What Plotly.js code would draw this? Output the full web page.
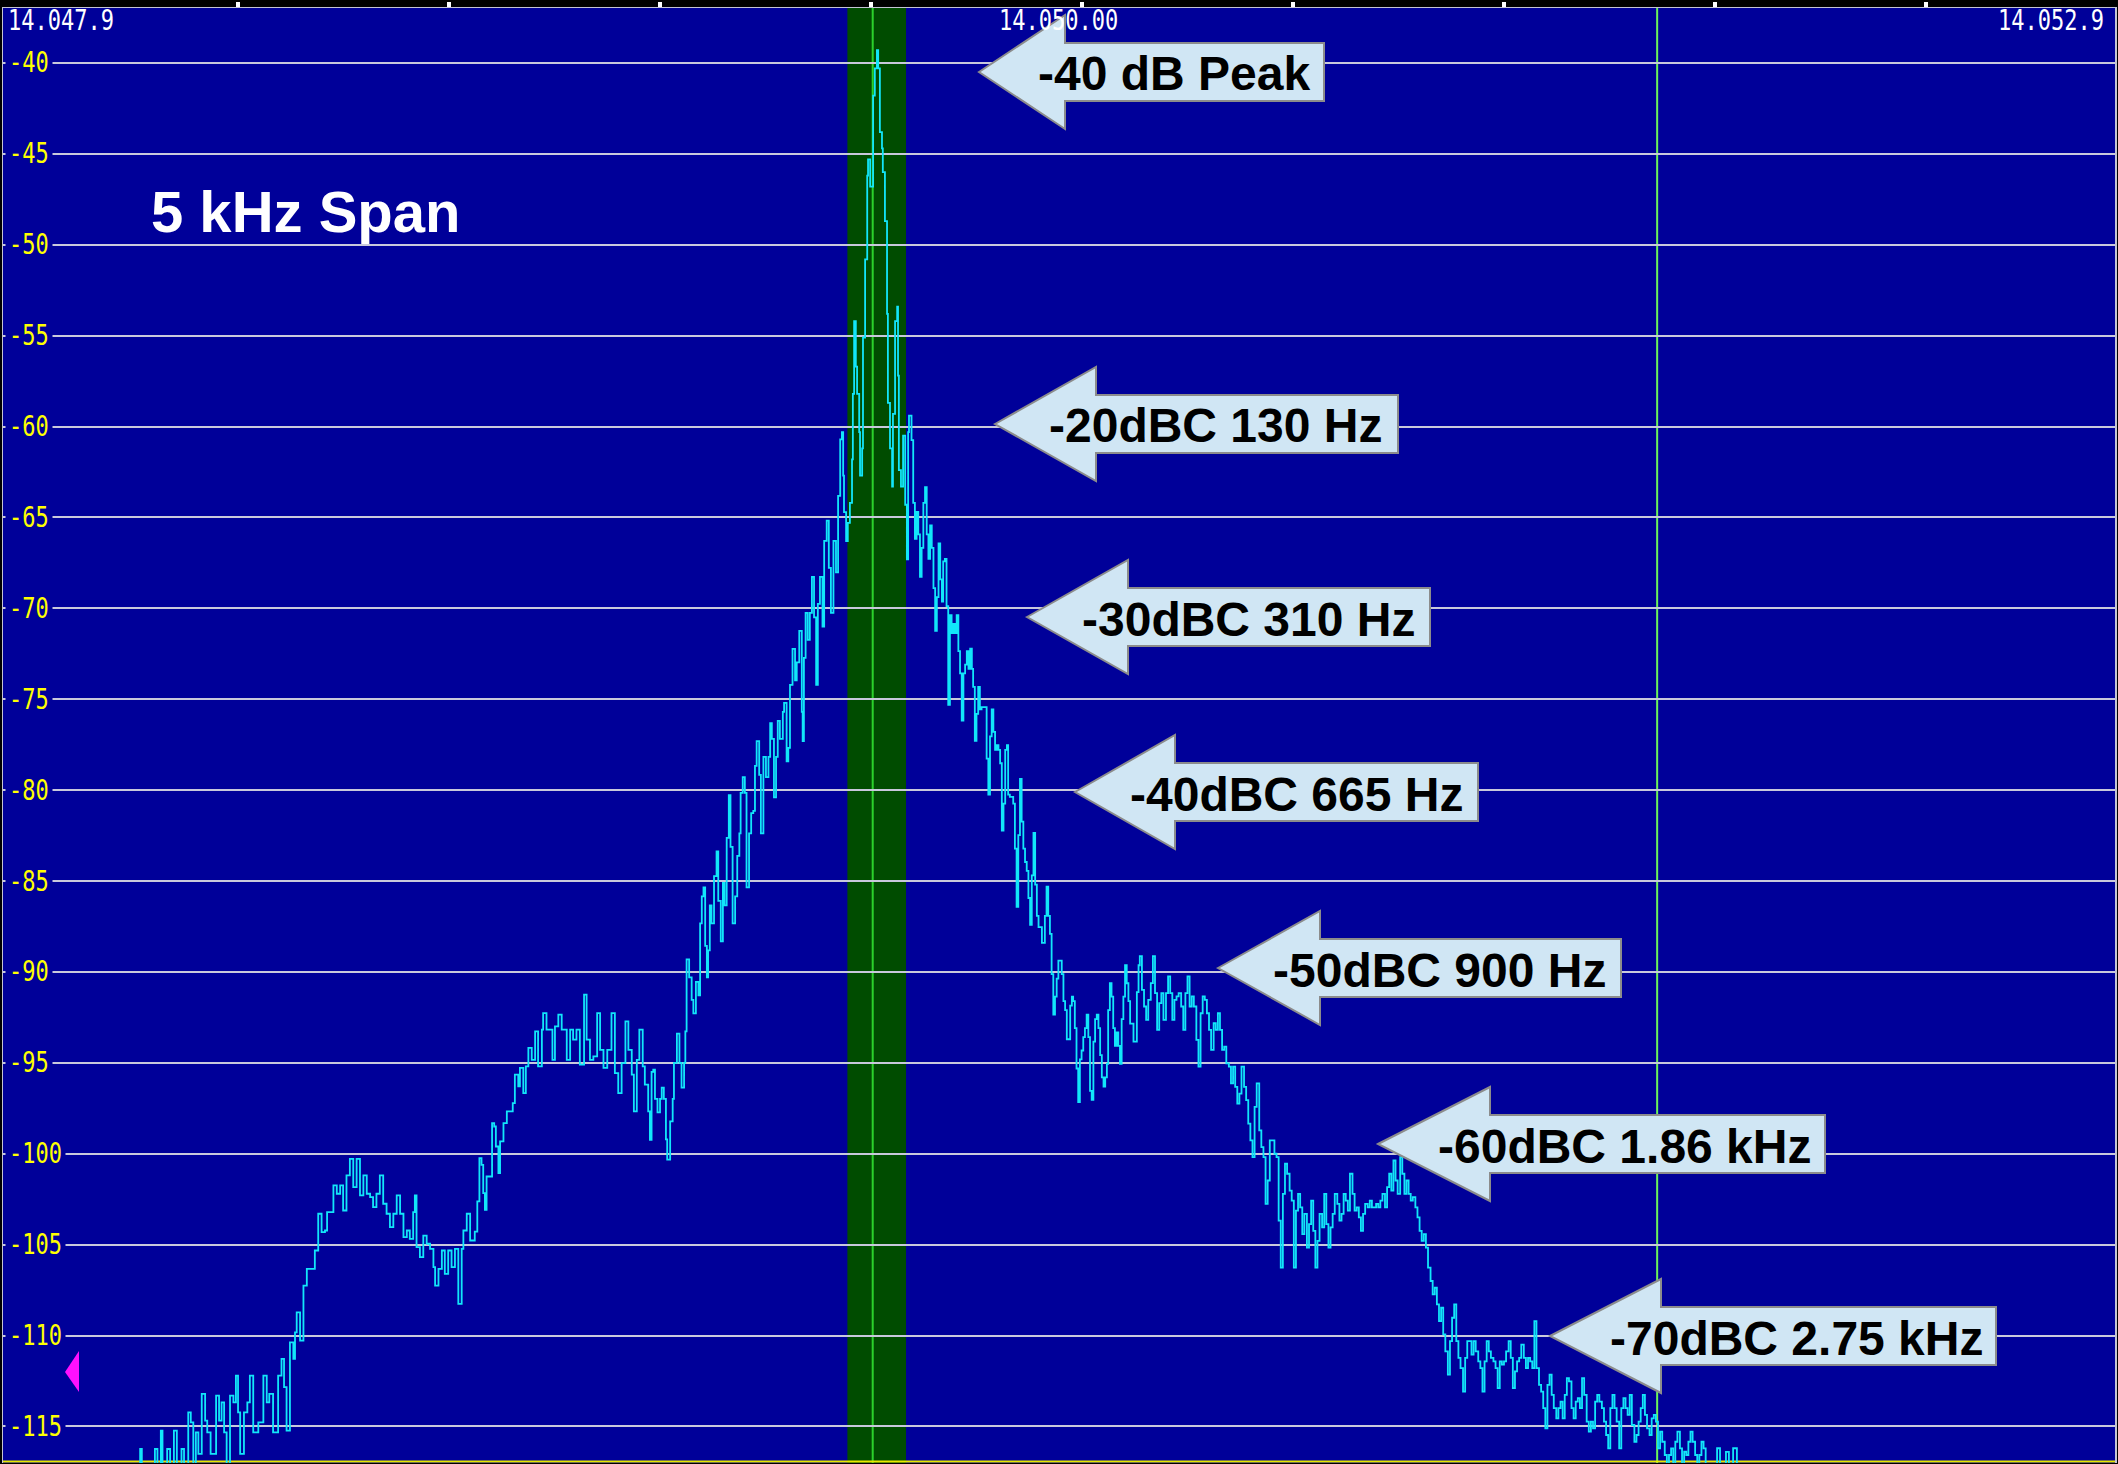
<!DOCTYPE html>
<html><head><meta charset="utf-8">
<script src="https://cdn.plot.ly/plotly-3.0.1.min.js"></script>
<style>html,body{margin:0;padding:0;background:#000;}#chart{width:2118px;height:1464px;}</style>
</head><body><div id="chart"></div>
<script>
// ---------------- data ----------------
const carrierMHz = 14.050;
// spectrum trace: offset from 14.050 MHz (Hz) and level (dB)
const freqOffsetHz = [
-1756,-1736,-1732,-1728,-1701,-1697,-1691,-1683,-1679,-1668,-1661,-1652,-1645,-1634,-1628,-1618,-1612,-1606,-1600,-1594,
-1586,-1578,-1573,-1565,-1552,-1545,-1539,-1533,-1527,-1519,-1511,-1505,-1500,-1495,-1486,-1478,-1472,-1464,-1452,-1440,
-1432,-1426,-1417,-1405,-1397,-1391,-1385,-1377,-1369,-1365,-1361,-1353,-1345,-1337,-1326,-1318,-1310,-1302,-1294,-1289,
-1282,-1274,-1266,-1258,-1251,-1243,-1235,-1227,-1219,-1211,-1203,-1195,-1187,-1180,-1172,-1164,-1156,-1148,-1140,-1132,
-1124,-1116,-1108,-1100,-1093,-1085,-1081,-1077,-1069,-1061,-1053,-1045,-1037,-1033,-1025,-1017,-1010,-1002,-994,-986,
-978,-970,-966,-958,-950,
-939,-933,-928,-923,-919,-915,-911,-903,-898,-893,-889,-883,-879,-871,-863,-856,-849,-844,-836,-832,
-824,-818,-812,-804,-796,-789,-780,-777,-769,-761,-755,-749,-741,-733,-725,-721,-713,-706,-698,-690,
-680,-674,-666,-658,-649,-642,-634,-625,-615,-607,-599,-591,-582,-575,-567,-562,-555,-549,-541,-536,-528,-524,
-520,-516,-512,-506,-500,-496,-491,-486,-483,-476,-470,-467,-460,-454,-449,-443,-440,-437,-431,-425,
-421,-415,-409,-405,-401,-397,-393,-389,-386,-382,-378,-372,-366,-362,-356,-351,-347,-342,-337,-333,
-328,-322,-317,-312,-309,-304,-299,-295,-289,-284,-279,-275,-271,-265,-261,-255,-249,-243,-239,-235,
-230,-225,-221,-216,-209,-206,-200,-196,-192,-186,-180,-176,-170,-164,-162,-159,-155,-150,-145,-140,
-135,-130,-126,-121,-115,-111,-105,-100,-95,-89,-83,-78,
-73,-69,-66,-64,-59,-55,-50,-45,-43,-40,-36,-33,-28,-26,-21,-19,-14,-9,-7,-2,
5,9,14,17,21,26,28,33,38,40,45,50,52,57,62,64,66,71,76,81,85,88,90,
96,100,104,108,112,116,120,124,128,132,136,140,144,148,152,156,160,164,168,171,
175,179,183,187,191,195,199,203,207,211,215,219,223,227,231,235,239,242,246,250,
254,258,262,270,274,278,282,286,290,294,298,302,306,310,314,318,322,325,329,333,
337,341,345,349,353,357,361,365,369,373,377,381,385,389,393,397,401,405,408,412,
416,420,424,428,432,436,440,444,448,452,456,460,464,468,472,476,479,483,487,491,
495,499,503,507,511,515,519,523,527,531,535,539,543,547,551,555,559,562,566,570,
574,578,582,586,590,594,598,602,606,610,614,622,630,634,
637,642,647,652,657,663,668,673,678,683,688,693,699,704,709,714,719,724,729,735,
740,745,750,755,760,765,771,776,781,786,791,796,801,806,812,817,822,827,832,837,
842,848,853,858,863,868,873,878,884,889,894,899,904,909,914,920,925,930,935,940,
945,950,956,961,966,971,976,981,986,992,997,1002,1007,1012,1017,1022,1027,1033,1038,1043,
1048,1053,1058,1063,1069,1074,1079,1084,1089,1094,1099,1105,1110,1115,1120,1125,1130,1135,1141,1146,
1151,1156,1161,1166,1171,1177,1182,1187,1192,1197,1202,1207,1212,1218,1223,1228,1233,1238,1243,1248,
1254,1259,1264,1269,1274,1279,1284,1290,1295,1300,1305,1310,1315,1320,1326,1331,1336,1341,1346,1351,
1356,1361,1367,1372,1377,1382,1387,1392,1397,1403,1408,1413,1418,1423,1428,1433,1439,1444,1449,1454,
1459,1464,1469,1475,1480,1485,1490,1495,1500,1505,1511,1516,1521,1526,1531,1536,1541,1547,1552,1557,
1562,1567,1572,1577,1583,1588,1593,1598,1603,1608,1613,1618,1624,1629,1634,1639,1644,1649,1654,1660,
1665,1670,1675,1680,1685,1690,1696,1701,1706,1711,1716,1721,1726,1732,1737,1742,1747,1752,1757,1762,
1767,1773,1778,1783,1788,1793,1798,1803,1809,1814,1819,1824,1829,1834,1839,1845,1850,1855,1860,1865,
1870,1875,1881,1886,1891,1896,1901,1906,1911,1917,1922,1927,1932,1937,1942,1947,1953,1958,1963,1968,
1973,1978,1988,2005,2012,2026,2033,2043,2052,2062
];
const levelDb = [
-117.06,-117.06,-116.24,-117.06,-117.06,-116.24,-117.06,-115.23,-117.06,-116.24,-117.06,-115.23,-117.06,-116.24,-117.06,-114.22,-114.77,-117.06,-115.32,-116.51,
-113.21,-114.68,-115.32,-116.51,-113.30,-114.68,-113.67,-115.32,-117.06,-113.30,-113.67,-112.20,-114.22,-116.51,-114.22,-113.67,-112.20,-115.32,-114.77,-112.20,
-113.67,-113.21,-115.32,-112.20,-111.28,-112.84,-115.23,-110.37,-111.28,-109.82,-108.72,-110.28,-107.25,-106.33,-106.33,-105.32,-103.30,-104.31,-104.22,-103.21,
-103.21,-101.74,-102.20,-101.74,-103.12,-101.19,-100.28,-101.83,-100.28,-102.29,-101.19,-102.20,-102.39,-102.94,-102.20,-101.19,-102.75,-103.30,-104.04,-103.30,
-102.29,-103.30,-104.59,-104.22,-104.68,-103.21,-102.29,-105.14,-105.69,-104.50,-104.95,-105.23,-106.24,-107.25,-106.33,-105.32,-106.61,-105.32,-106.24,-105.23,
-108.26,-105.23,-104.22,-103.30,-104.77,
-104.28,-102.62,-100.24,-100.61,-102.17,-103.08,-101.25,-101.25,-98.31,-98.50,-99.60,-101.06,-99.32,-98.31,-97.67,-97.67,-97.21,-95.65,-96.29,-95.28,
-96.66,-95.19,-94.18,-94.83,-93.27,-95.19,-93.17,-92.26,-93.17,-93.17,-94.83,-92.99,-92.35,-93.17,-93.17,-94.83,-93.17,-93.72,-93.17,-95.10,
-91.25,-93.72,-94.83,-94.64,-92.26,-94.28,-95.28,-94.28,-92.26,-95.56,-96.66,-95.01,-92.72,-94.28,-95.65,-97.67,-94.83,-93.17,-95.19,-96.20,-97.67,-99.23,
-95.50,-95.37,-96.98,-97.72,-96.98,-96.36,-96.98,-99.21,-100.32,-98.22,-96.98,-95.00,-93.39,-95.00,-96.36,-95.00,-93.27,-89.31,-90.30,-91.53,
-92.28,-90.54,-91.29,-87.33,-85.84,-85.35,-88.56,-90.30,-88.81,-86.34,-87.33,-84.73,-83.37,-86.09,-88.32,-85.10,-86.34,-82.62,-80.27,-83.12,
-87.33,-85.84,-83.61,-82.38,-80.15,-79.28,-80.15,-85.35,-82.38,-81.26,-81.14,-78.66,-77.30,-79.16,-82.38,-78.17,-79.28,-78.17,-76.31,-77.18,
-80.40,-78.17,-76.19,-77.18,-75.69,-75.20,-78.42,-77.67,-74.21,-72.23,-73.96,-72.97,-71.24,-75.69,-77.30,-72.72,-70.25,-71.73,-70.25,-68.27,
-70.50,-74.21,-69.75,-68.27,-71.00,-66.29,-65.17,-67.77,-70.25,-66.29,-68.02,-63.81,
-60.7,-60.3,-62.7,-64.7,-66.3,-65.3,-64.2,-61.8,-58.2,-54.2,-56.7,-58.2,-60.3,-62.7,-61.2,-55.1,-50.8,-46.2,-45.3,-46.8,
-41.8,-40.3,-39.3,-40.3,-43.8,-44.7,-46.0,-48.7,-53.8,-58.7,-61.2,-63.3,-59.3,-54.2,-53.4,-57.2,-62.4,-63.3,-60.5,-64.3,-67.3,-60.3,-59.4,
-60.74,-64.20,-66.17,-64.69,-65.93,-68.27,-66.67,-64.20,-63.33,-65.93,-67.28,-65.43,-66.67,-68.89,-71.23,-69.38,-66.42,-68.40,-69.63,-67.41,
-67.28,-69.88,-75.31,-70.37,-71.36,-70.86,-71.36,-70.37,-72.35,-73.58,-76.17,-73.58,-73.09,-72.35,-73.33,-72.22,-73.33,-74.32,-77.28,-75.80,
-74.32,-75.56,-75.43,-75.43,-78.27,-80.25,-77.04,-75.56,-76.79,-77.78,-77.53,-77.78,-78.52,-82.22,-80.74,-77.78,-77.53,-80.25,-80.37,-80.37,
-80.74,-83.21,-86.42,-82.47,-79.38,-81.73,-83.21,-83.95,-84.44,-85.93,-87.41,-84.69,-82.35,-85.19,-86.91,-87.53,-87.53,-88.40,-88.40,-86.91,
-85.31,-86.91,-87.90,-90.12,-92.35,-91.36,-90.37,-89.38,-89.38,-90.12,-91.60,-92.10,-93.70,-93.70,-91.85,-91.36,-91.60,-93.09,-95.31,-97.16,
-94.81,-94.32,-93.58,-93.09,-92.35,-93.58,-96.54,-97.04,-93.83,-92.59,-92.35,-93.09,-94.57,-95.80,-96.30,-95.80,-95.06,-92.10,-90.62,-91.36,
-93.09,-94.07,-93.33,-94.07,-95.06,-92.59,-91.36,-89.63,-90.62,-91.60,-92.84,-93.83,-91.11,-89.63,
-89.13,-90.98,-91.90,-92.63,-91.53,-90.61,-89.13,-91.16,-93.19,-91.71,-91.16,-92.63,-91.16,-90.24,-91.16,-92.63,-91.53,-91.34,-91.16,-91.90,
-93.19,-91.16,-90.24,-91.90,-91.34,-91.90,-93.74,-95.21,-92.27,-91.34,-91.53,-92.27,-93.19,-94.29,-92.82,-93.19,-92.27,-93.19,-94.29,-94.11,
-95.03,-95.21,-96.13,-95.21,-96.32,-97.24,-96.69,-95.21,-96.32,-97.05,-98.34,-99.26,-100.18,-97.42,-96.13,-98.71,-99.63,-100.18,-102.76,-101.47,
-99.26,-99.26,-100.00,-100.18,-103.68,-106.26,-102.21,-100.55,-101.10,-102.03,-102.58,-106.26,-103.13,-102.21,-102.95,-104.42,-103.31,-105.16,-103.87,-102.58,
-104.24,-106.26,-104.79,-103.31,-104.05,-102.21,-103.87,-105.16,-104.05,-103.31,-102.21,-102.76,-103.68,-103.31,-102.21,-102.58,-103.13,-101.10,-102.21,-103.13,
-102.95,-103.50,-104.24,-103.31,-102.76,-102.95,-102.58,-102.95,-102.95,-102.76,-102.95,-102.58,-102.21,-102.95,-101.84,-101.10,-102.03,-100.37,-101.47,-102.21,
-100.18,-101.10,-102.21,-101.47,-102.21,-102.58,-102.39,-102.95,-103.50,-104.24,-104.79,-104.42,-105.16,-106.26,-107.00,-107.73,-107.37,-108.29,-109.21,-108.47,
-109.94,-110.87,-112.15,-110.31,-109.02,-108.29,-110.31,-111.23,-111.79,-113.08,-111.23,-110.31,-110.31,-111.05,-110.31,-110.87,-111.42,-111.79,-113.08,-111.42,
-110.31,-110.87,-111.23,-111.42,-111.79,-112.89,-111.42,-111.60,-111.42,-110.87,-110.31,-111.23,-112.89,-111.97,-111.42,-111.23,-110.50,-111.23,-111.79,-111.23,
-111.42,-111.79,-109.21,-111.79,-112.71,-113.08,-113.99,-115.10,-112.71,-112.15,-113.26,-113.99,-114.55,-113.99,-113.63,-114.55,-113.26,-112.34,-112.52,-113.99,
-114.55,-113.63,-113.44,-113.99,-112.34,-113.26,-114.73,-115.28,-114.73,-115.10,-113.63,-113.26,-113.63,-113.99,-114.73,-115.47,-116.21,-113.99,-113.26,-113.99,
-114.73,-116.21,-113.99,-113.44,-113.99,-114.36,-113.26,-114.92,-115.84,-115.47,-114.73,-113.99,-113.26,-114.36,-115.10,-115.47,-114.55,-114.36,-114.73,-116.21,
-115.28,-115.84,-116.57,-117.09,-116.57,-116.21,-117.09,-115.84,-115.28,-116.21,-117.09,-116.39,-116.57,-115.84,-115.28,-115.84,-116.57,-117.09,-116.57,-115.84,
-116.21,-117.09,-117.09,-116.2,-117.09,-116.4,-117.09,-116.2,-117.09,-117.09
];
const levelTicksDb = [-40,-45,-50,-55,-60,-65,-70,-75,-80,-85,-90,-95,-100,-105,-110,-115];
const freqTickHz = [-1500,-1000,-500,0,500,1000,1500,2000,2500];
const freqLabels = ["14.047.9","14.050.00","14.052.9"];
const spanHz = [-2057, 2948];
const levelRangeDb = [-117.01, -36.975];
const passbandHz = [-56, 83];
const carrierMarkHz = 4;
const offsetMarkHz = 1863;
const calloutTexts = ["-40 dB Peak","-20dBC 130 Hz","-30dBC 310 Hz","-40dBC 665 Hz","-50dBC 900 Hz","-60dBC 1.86 kHz","-70dBC 2.75 kHz"];
const spanTitle = "5 kHz Span";

// ---------------- layout helpers (pixel geometry of the picture) ----------------
const W = 2118, H = 1464, ML = 3, MR = 3, MT = 8, MB = 1;
const PW = W - ML - MR, PH = H - MT - MB;
const PX = p => (p - ML) / PW;
const PY = p => 1 - (p - MT) / PH;

// callout arrows: tip x, centre y, head base x, body right x, text centre x
const calloutGeom = [
  {tip:979,  cy:72,   head:1065, right:1324, tx:1174},
  {tip:995,  cy:424,  head:1096, right:1398, tx:1215},
  {tip:1027, cy:617,  head:1128, right:1430, tx:1248},
  {tip:1075, cy:792,  head:1175, right:1478, tx:1296},
  {tip:1218, cy:968,  head:1320, right:1621, tx:1439},
  {tip:1378, cy:1144, head:1490, right:1825, tx:1624},
  {tip:1550, cy:1336, head:1661, right:1996, tx:1796}
];
const BH = 29, HH = 57;

const shapes = [];
const annotations = [];
const stretchIdx = [];

// passband and markers
shapes.push({type:'rect', xref:'x', yref:'paper', x0:passbandHz[0], x1:passbandHz[1], y0:0, y1:1,
  fillcolor:'#004c00', line:{width:0}, layer:'below'});
shapes.push({type:'line', xref:'x', yref:'paper', x0:carrierMarkHz, x1:carrierMarkHz, y0:0, y1:1,
  line:{color:'#2bd12b', width:2}, layer:'between'});
shapes.push({type:'line', xref:'x', yref:'paper', x0:offsetMarkHz, x1:offsetMarkHz, y0:0, y1:1,
  line:{color:'#6cf25a', width:2}, layer:'between'});
// bottom yellow reference line
shapes.push({type:'line', xref:'paper', yref:'paper', x0:0, x1:1, y0:0.001, y1:0.001,
  line:{color:'#e8e800', width:2}, layer:'below'});
// magenta reference marker
shapes.push({type:'path', xref:'paper', yref:'paper',
  path:`M ${PX(65)} ${PY(1372)} L ${PX(79)} ${PY(1351)} L ${PX(79)} ${PY(1392)} Z`,
  fillcolor:'#ff10ff', line:{width:0}});

calloutGeom.forEach((g, i) => {
  const c = g.cy;
  const path = `M ${PX(g.tip)} ${PY(c)} L ${PX(g.head)} ${PY(c-HH)} L ${PX(g.head)} ${PY(c-BH)} L ${PX(g.right)} ${PY(c-BH)} ` +
               `L ${PX(g.right)} ${PY(c+BH)} L ${PX(g.head)} ${PY(c+BH)} L ${PX(g.head)} ${PY(c+HH)} Z`;
  shapes.push({type:'path', xref:'paper', yref:'paper', path, fillcolor:'#d0e6f4',
    line:{color:'#8c8c8c', width:2}, layer:'above'});
  annotations.push({xref:'paper', yref:'paper', x:PX(g.tx), y:PY(c+2), xanchor:'center', yanchor:'middle',
    text:calloutTexts[i], showarrow:false,
    font:{family:'Liberation Sans, Arial, sans-serif', size:48, color:'#000000', weight:700}});
});

// level labels (yellow, inside the plot)
levelTicksDb.forEach(v => {
  stretchIdx.push(annotations.length);
  annotations.push({xref:'paper', yref:'y', x:PX(5), y:v, xanchor:'left', yanchor:'middle',
    text:String(v), showarrow:false, bgcolor:'#000099', borderpad:3,
    font:{family:'DejaVu Sans Mono, monospace', size:22, color:'#ffff00'}});
});
// frequency labels (white, top)
const monoWhite = {family:'DejaVu Sans Mono, monospace', size:22, color:'#ffffff'};
stretchIdx.push(annotations.length);
annotations.push({xref:'paper', yref:'paper', x:PX(6), y:PY(21), xanchor:'left', yanchor:'middle',
  text:freqLabels[0], showarrow:false, font:monoWhite});
stretchIdx.push(annotations.length);
annotations.push({xref:'paper', yref:'paper', x:PX(1058), y:PY(21), xanchor:'center', yanchor:'middle',
  text:freqLabels[1], showarrow:false, font:monoWhite});
stretchIdx.push(annotations.length);
annotations.push({xref:'paper', yref:'paper', x:PX(2106), y:PY(21), xanchor:'right', yanchor:'middle',
  text:freqLabels[2], showarrow:false, font:monoWhite});
// span title
annotations.push({xref:'paper', yref:'paper', x:PX(149), y:PY(212), xanchor:'left', yanchor:'middle',
  text:spanTitle, showarrow:false, font:{family:'Liberation Sans, Arial, sans-serif', size:58, color:'#ffffff', weight:700}});

const trace = {
  type:'scatter', mode:'lines', x:freqOffsetHz, y:levelDb,
  line:{color:'#12e6fa', width:1.8, shape:'hv'},
  hoverinfo:'skip', showlegend:false
};

const layout = {
  width:W, height:H,
  margin:{l:ML, r:MR, t:MT, b:MB, pad:0},
  paper_bgcolor:'#000000', plot_bgcolor:'#000099',
  showlegend:false,
  xaxis:{range:spanHz, side:'top', showgrid:false, zeroline:false,
    showline:true, linecolor:'#c4c4d4', linewidth:1.5,
    tickmode:'array', tickvals:freqTickHz, ticks:'outside', ticklen:5, tickwidth:4, tickcolor:'#ffffff',
    showticklabels:false},
  yaxis:{range:levelRangeDb, showgrid:true, gridcolor:'#c8c8dc', gridwidth:2,
    tickmode:'array', tickvals:levelTicksDb, ticks:'', showticklabels:false, zeroline:false,
    showline:true, mirror:true, linecolor:'#c4c4d4', linewidth:1.5},
  shapes, annotations
};

Plotly.newPlot('chart', [trace], layout, {displayModeBar:false, staticPlot:true}).then(() => {
  // the instrument's pixel font is taller than it is wide: stretch the mono labels vertically
  const want = new Set(stretchIdx);
  document.querySelectorAll('#chart g.annotation').forEach(g => {
    const idx = Number(g.getAttribute('data-index'));
    if (!want.has(idx)) return;
    const t = g.querySelector('text.annotation-text');
    if (!t) return;
    t.style.transformBox = 'fill-box';
    t.style.transformOrigin = 'center';
    t.style.transform = 'scaleY(1.3)';
    t.style.fontWeight = '500';
  });
});
</script>
</body></html>
